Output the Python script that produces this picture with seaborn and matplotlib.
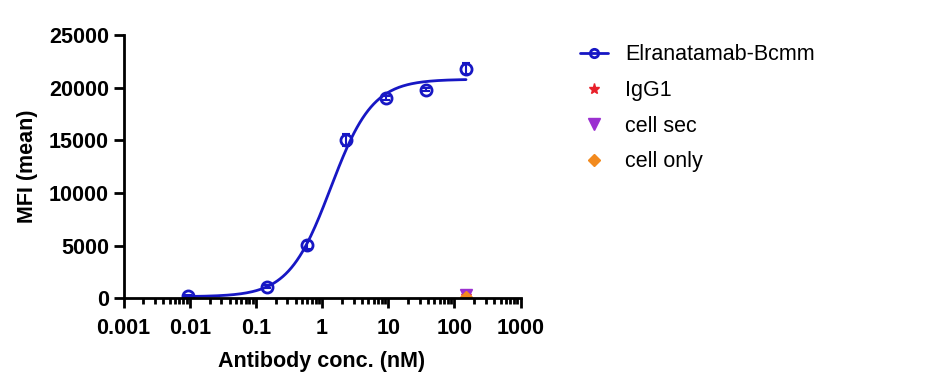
from matplotlib import pyplot as plt
from matplotlib.lines import Line2D
from matplotlib.ticker import LogLocator, NullFormatter, FixedLocator, FixedFormatter
import seaborn as sns
import numpy as np
import pandas as pd

sns.set_style("ticks")
plt.rcParams['font.family'] = ['Liberation Sans', 'DejaVu Sans']

# Measured points (mean, error)
conc = [0.0094, 0.148, 0.586, 2.34, 9.375, 37.5, 150]
mfi = [210, 1100, 5060, 15030, 19050, 19820, 21800]
mfi_err = [80, 150, 420, 600, 200, 150, 500]

# Controls at top concentration
ctrl_names = ['IgG1', 'cell sec', 'cell only']
ctrl_conc = [150, 150, 150]
ctrl_mfi = [180, 280, 100]
ctrl_colors = ['#e8202a', '#9b30d0', '#f28a1e']
ctrl_markers = ['*', 'v', 'D']

# 4PL fit parameters of the curve
fit_bottom, fit_top, fit_ec50, fit_hill = 150, 20800, 1.35, 1.37

blue = '#1717c4'
fs = 15.5

fig = plt.figure(figsize=(9.33, 3.85), dpi=100)
ax = fig.add_axes([0.1324, 0.2252, 0.4255, 0.6838])

xs = np.logspace(np.log10(conc[0]), np.log10(conc[-1]), 200)
curve = pd.DataFrame({'x': xs,
                      'y': fit_bottom + (fit_top - fit_bottom) / (1 + (fit_ec50 / xs) ** fit_hill)})
sns.lineplot(data=curve, x='x', y='y', color=blue, linewidth=2, ax=ax)

ax.errorbar(conc, mfi, yerr=mfi_err, fmt='none', ecolor=blue, elinewidth=1.5, capsize=3, capthick=1.5)
ax.plot(conc, mfi, 'o', markersize=8, markerfacecolor='none', markeredgecolor=blue, markeredgewidth=2)

for n, x, y, c, m in zip(ctrl_names, ctrl_conc, ctrl_mfi, ctrl_colors, ctrl_markers):
    ax.plot([x], [y], marker=m, color=c, markersize=8 if m != 'D' else 6, linestyle='none')

ax.set_xscale('log')
ax.set_xlim(0.001, 1000)
ax.set_ylim(0, 25000)
ax.set_yticks([0, 5000, 10000, 15000, 20000, 25000])
ax.xaxis.set_major_locator(FixedLocator([0.001, 0.01, 0.1, 1, 10, 100, 1000]))
ax.xaxis.set_major_formatter(FixedFormatter(['0.001', '0.01', '0.1', '1', '10', '100', '1000']))
ax.xaxis.set_minor_locator(LogLocator(base=10, subs=np.arange(2, 10)))
ax.xaxis.set_minor_formatter(NullFormatter())

sns.despine(ax=ax)
for s in ['left', 'bottom']:
    ax.spines[s].set_linewidth(2)
    ax.spines[s].set_color('black')
ax.tick_params(axis='both', which='major', width=2, length=7, labelsize=fs,
               direction='out', color='black', labelcolor='black')
ax.tick_params(axis='x', which='major', pad=7)
ax.tick_params(axis='x', which='minor', width=2, length=4, direction='out', color='black')
for lbl in ax.get_xticklabels() + ax.get_yticklabels():
    lbl.set_fontweight('bold')

ax.set_xlabel('Antibody conc. (nM)', fontsize=fs, fontweight='bold', labelpad=9, color='black')
ax.set_ylabel('MFI (mean)', fontsize=fs, fontweight='bold', labelpad=8, color='black')

handles = [Line2D([0], [0], color=blue, linewidth=2, marker='o', markersize=6,
                  markerfacecolor='none', markeredgecolor=blue, markeredgewidth=2)]
for c, m in zip(ctrl_colors, ctrl_markers):
    handles.append(Line2D([0], [0], color=c, linestyle='none', marker=m,
                          markersize=8 if m != 'D' else 6))
fig.legend(handles, ['Elranatamab-Bcmm'] + ctrl_names, loc='upper left',
           bbox_to_anchor=(0.601, 0.935), frameon=False, fontsize=fs,
           handlelength=1.3, handletextpad=0.8, labelspacing=0.68,
           labelcolor='black')

plt.savefig('out.png', dpi=100)
